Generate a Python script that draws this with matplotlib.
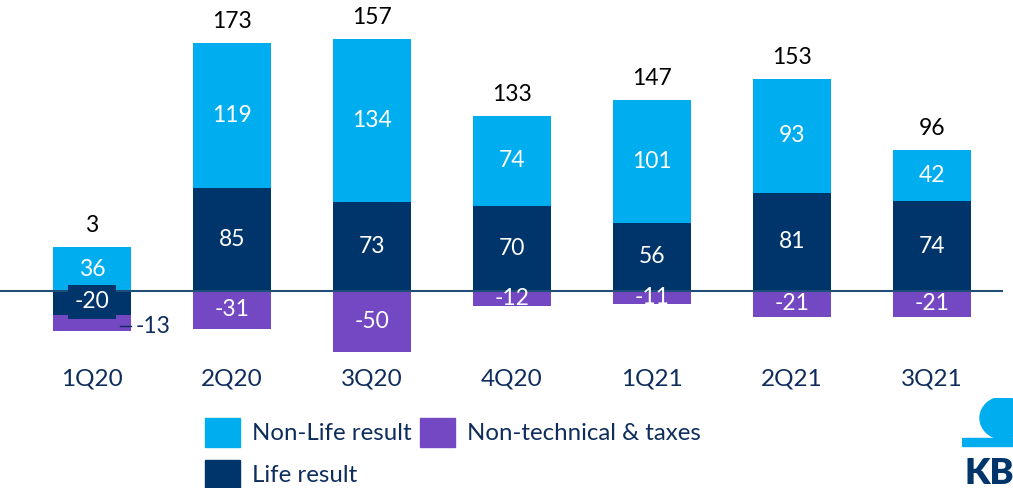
import numpy as np
import matplotlib.pyplot as plt
from matplotlib.patches import Rectangle, Ellipse

plt.rcParams['font.family'] = ['Lato', 'DejaVu Sans']

quarters = ['1Q20', '2Q20', '3Q20', '4Q20', '1Q21', '2Q21', '3Q21']
life = [-20, 85, 73, 70, 56, 81, 74]
non_life = [36, 119, 134, 74, 101, 93, 42]
non_tech = [-13, -31, -50, -12, -11, -21, -21]
totals = [3, 173, 157, 133, 147, 153, 96]

c_nonlife = '#00AEEF'
c_life = '#00356B'
c_nontech = '#7448C2'
c_text = '#0E2D5C'

fig = plt.figure(figsize=(10.13, 4.88), dpi=100)
ax = fig.add_axes([0, 1 - 360 / 488, 1003 / 1013, 360 / 488])
ax.set_xlim(-92 / 140, (1003 - 92) / 140)
ax.set_ylim(-56.7, 239.3)
ax.axis('off')

x = np.arange(len(quarters))
w = 0.56

life_arr = np.array(life)
nl_bottom = np.where(life_arr > 0, life_arr, 0)
nt_bottom = np.where(life_arr < 0, life_arr, 0)

ax.bar(x, life, w, color=c_life, zorder=2)
ax.bar(x, non_life, w, bottom=nl_bottom, color=c_nonlife, zorder=2)
ax.bar(x, non_tech, w, bottom=nt_bottom, color=c_nontech, zorder=2)
ax.axhline(0, color='#1F4E79', lw=1.5, zorder=3)

fs = 16.5
for i in range(len(quarters)):
    # non-life label
    ax.text(x[i], nl_bottom[i] + non_life[i] / 2, str(non_life[i]), color='white',
            ha='center', va='center', fontsize=fs, zorder=5)
    # life label
    if life[i] > 0:
        ax.text(x[i], life[i] / 2, str(life[i]), color='white',
                ha='center', va='center', fontsize=fs, zorder=5)
    else:
        ax.text(x[i], life[i] / 2 + 1, str(life[i]), color='white',
                ha='center', va='center', fontsize=fs, zorder=5,
                bbox=dict(boxstyle='square,pad=0.3', fc=c_life, ec='none'))
    # non-technical label
    if i == 0:
        y_nt = nt_bottom[i] + non_tech[i] / 2
        ax.plot([x[i] + 0.2, x[i] + 0.28], [y_nt - 2, y_nt - 2], color=c_text, lw=1, zorder=4)
        ax.text(x[i] + 0.31, y_nt - 3, str(non_tech[i]), color=c_text,
                ha='left', va='center', fontsize=fs, zorder=5)
    else:
        ax.text(x[i], nt_bottom[i] + non_tech[i] / 2, str(non_tech[i]), color='white',
                ha='center', va='center', fontsize=fs, zorder=5)
    # total
    top = nl_bottom[i] + non_life[i]
    ax.annotate(str(totals[i]), (x[i], top), xytext=(0, 8), textcoords='offset points',
                ha='center', va='bottom', fontsize=fs, color='black')
    # category label
    ax.text(x[i], -72, quarters[i], ha='center', va='center', fontsize=17.5,
            color=c_text, clip_on=False)

# legend
def legend_item(px, py, color, label):
    fig.patches.append(Rectangle((px / 1013, 1 - (py + 29) / 488), 35 / 1013, 29 / 488,
                                 transform=fig.transFigure, color=color))
    fig.text((px + 47) / 1013, 1 - (py + 15) / 488, label, ha='left', va='center',
             fontsize=17.3, color=c_text)

legend_item(205, 418, c_nonlife, 'Non-Life result')
legend_item(420, 418, c_nontech, 'Non-technical & taxes')
legend_item(205, 460, c_life, 'Life result')

# partial logo in the corner, clipped by its own small axes
lax = fig.add_axes([962 / 1013, 0, 51 / 1013, 90 / 488])
lax.set_xlim(962, 1013)
lax.set_ylim(488, 398)
lax.axis('off')
lax.add_patch(Ellipse((1003, 418), 46, 42, color=c_nonlife))
lax.add_patch(Rectangle((962, 438), 51, 8, color=c_nonlife))
lax.text(964, 474, 'KBC', fontsize=26, fontweight='heavy', color=c_life,
         ha='left', va='center', clip_on=True)

fig.savefig('out.png', dpi=100)
